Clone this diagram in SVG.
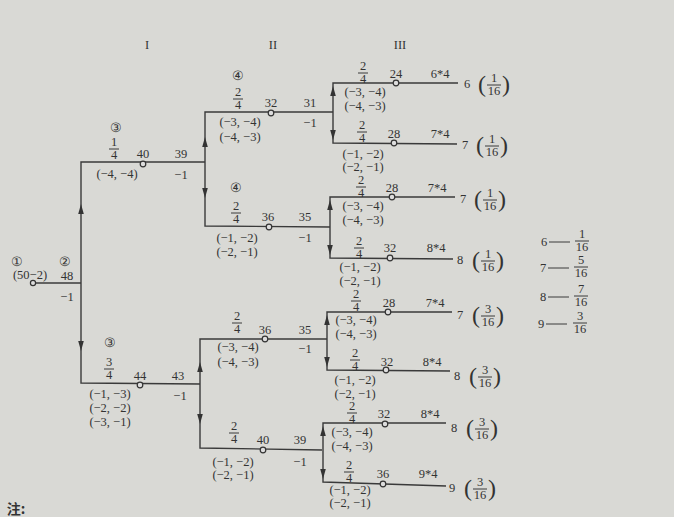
<svg xmlns="http://www.w3.org/2000/svg" width="674" height="517" viewBox="0 0 674 517">
<style>
text{font-family:"Liberation Serif",serif;font-size:12.5px;fill:#333;text-anchor:middle}
.p{font-size:24px}
.c{fill:#ddd;stroke:#333;stroke-width:1.2}
line,polyline{stroke:#3a3a3a;stroke-width:1.4;fill:none}
.fl{stroke-width:1}
.ah{fill:#333}
</style>
<defs>
<path id="up" class="ah" d="M0,-6 L2.8,4 L-2.8,4Z"/>
<path id="dn" class="ah" d="M0,6 L2.8,-4 L-2.8,-4Z"/>
</defs>
<rect width="674" height="517" fill="#d9d9d5"/>
<text x="147" y="49">I</text><text x="273" y="49">II</text><text x="400" y="49">III</text>
<g id="connectors">
<line x1="33" y1="283" x2="81" y2="283"/>
<polyline points="205,162 81,162 81,383 200,384"/>
<use href="#up" x="81" y="210"/><use href="#dn" x="81" y="345"/>
<polyline points="333,112 205,112 205,226 330,227"/>
<use href="#up" x="205" y="143"/><use href="#dn" x="205" y="192"/>
<polyline points="458,83 333,83 333,143 457,144"/>
<use href="#up" x="333" y="92"/><use href="#dn" x="333" y="134"/>
<polyline points="455,197 330,197 330,258 453,259"/>
<use href="#up" x="330" y="206"/><use href="#dn" x="330" y="249"/>
<polyline points="327,339 200,339 200,448 322,450"/>
<use href="#up" x="200" y="368"/><use href="#dn" x="200" y="418"/>
<polyline points="452,312 327,312 327,370 450,371"/>
<use href="#up" x="327" y="321"/><use href="#dn" x="327" y="361"/>
<polyline points="446,423 323,423 323,482 446,486"/>
<use href="#up" x="323" y="432"/><use href="#dn" x="323" y="473"/>
</g>
<g id="root"><circle class="c" cx="33" cy="283" r="2.6"/>
<text x="17" y="266">①</text><text x="65" y="266">②</text>
<text x="30" y="279">(50−2)</text><text x="67" y="280">48</text><text x="67" y="301">−1</text></g>
<g id="n1a"><circle class="c" cx="143" cy="164" r="2.8"/>
<text x="116" y="132">③</text><text x="114" y="146">1</text><line class="fl" x1="109" y1="149" x2="119" y2="149"/><text x="114" y="159">4</text>
<text x="143" y="158">40</text><text x="181" y="158">39</text><text x="117" y="178">(−4, −4)</text><text x="181" y="179">−1</text></g>
<g id="n2a"><circle class="c" cx="271" cy="113" r="2.8"/>
<text x="238" y="80">④</text><text x="238" y="96">2</text><line class="fl" x1="233" y1="99" x2="243" y2="99"/><text x="238" y="109">4</text>
<text x="271" y="107">32</text><text x="310" y="107">31</text><text x="240" y="126">(−3, −4)</text><text x="240" y="141">(−4, −3)</text><text x="310" y="127">−1</text></g>
<g id="n2b"><circle class="c" cx="269" cy="227" r="2.8"/>
<text x="236" y="192">④</text><text x="236" y="210">2</text><line class="fl" x1="231" y1="213" x2="241" y2="213"/><text x="236" y="223">4</text>
<text x="268" y="221">36</text><text x="305" y="221">35</text><text x="237" y="242">(−1, −2)</text><text x="237" y="256">(−2, −1)</text><text x="305" y="242">−1</text></g>
<g id="n1b"><circle class="c" cx="140" cy="385" r="2.8"/>
<text x="110" y="347">③</text><text x="109" y="366">3</text><line class="fl" x1="104" y1="369" x2="114" y2="369"/><text x="109" y="379">4</text>
<text x="140" y="380">44</text><text x="178" y="380">43</text><text x="110" y="398">(−1, −3)</text><text x="110" y="412">(−2, −2)</text><text x="110" y="426">(−3, −1)</text><text x="180" y="400">−1</text></g>
<g id="n2c"><circle class="c" cx="265" cy="339" r="2.8"/>
<text x="237" y="320">2</text><line class="fl" x1="232" y1="323" x2="242" y2="323"/><text x="237" y="333">4</text>
<text x="265" y="334">36</text><text x="305" y="334">35</text><text x="238" y="351">(−3, −4)</text><text x="238" y="366">(−4, −3)</text><text x="305" y="353">−1</text></g>
<g id="n2d"><circle class="c" cx="263" cy="450" r="2.8"/>
<text x="234" y="430">2</text><line class="fl" x1="229" y1="433" x2="239" y2="433"/><text x="234" y="443">4</text>
<text x="263" y="444">40</text><text x="300" y="444">39</text><text x="233" y="466">(−1, −2)</text><text x="233" y="479">(−2, −1)</text><text x="300" y="466">−1</text></g>
<!-- leaves -->
<g id="l1"><circle class="c" cx="396" cy="83" r="2.8"/>
<text x="363" y="70">2</text><line class="fl" x1="358" y1="73" x2="368" y2="73"/><text x="363" y="83">4</text>
<text x="396" y="78">24</text><text x="440" y="78">6*4</text><text x="467" y="88">6</text>
<text class="p" x="482" y="92">(</text><text x="494" y="82">1</text><line class="fl" x1="487" y1="85" x2="501" y2="85"/><text x="494" y="95">16</text><text class="p" x="506" y="92">)</text>
<text x="365" y="96">(−3, −4)</text><text x="365" y="110">(−4, −3)</text></g>
<g id="l2"><circle class="c" cx="394" cy="143" r="2.8"/>
<text x="362" y="129">2</text><line class="fl" x1="357" y1="132" x2="367" y2="132"/><text x="362" y="142">4</text>
<text x="394" y="138">28</text><text x="440" y="138">7*4</text><text x="465" y="149">7</text>
<text class="p" x="480" y="153">(</text><text x="492" y="143">1</text><line class="fl" x1="485" y1="146" x2="499" y2="146"/><text x="492" y="156">16</text><text class="p" x="504" y="153">)</text>
<text x="363" y="158">(−1, −2)</text><text x="363" y="171">(−2, −1)</text></g>
<g id="l3"><circle class="c" cx="392" cy="197" r="2.8"/>
<text x="361" y="184">2</text><line class="fl" x1="356" y1="187" x2="366" y2="187"/><text x="361" y="197">4</text>
<text x="392" y="192">28</text><text x="437" y="192">7*4</text><text x="463" y="203">7</text>
<text class="p" x="478" y="207">(</text><text x="490" y="197">1</text><line class="fl" x1="483" y1="200" x2="497" y2="200"/><text x="490" y="210">16</text><text class="p" x="502" y="207">)</text>
<text x="363" y="210">(−3, −4)</text><text x="363" y="224">(−4, −3)</text></g>
<g id="l4"><circle class="c" cx="390" cy="258" r="2.8"/>
<text x="359" y="245">2</text><line class="fl" x1="354" y1="248" x2="364" y2="248"/><text x="359" y="258">4</text>
<text x="390" y="252">32</text><text x="436" y="252">8*4</text><text x="460" y="264">8</text>
<text class="p" x="476" y="268">(</text><text x="488" y="258">1</text><line class="fl" x1="481" y1="261" x2="495" y2="261"/><text x="488" y="271">16</text><text class="p" x="500" y="268">)</text>
<text x="360" y="271">(−1, −2)</text><text x="360" y="285">(−2, −1)</text></g>
<g id="l5"><circle class="c" cx="388" cy="312" r="2.8"/>
<text x="356" y="298">2</text><line class="fl" x1="351" y1="301" x2="361" y2="301"/><text x="356" y="311">4</text>
<text x="389" y="307">28</text><text x="435" y="307">7*4</text><text x="460" y="319">7</text>
<text class="p" x="476" y="323">(</text><text x="488" y="313">3</text><line class="fl" x1="481" y1="316" x2="495" y2="316"/><text x="488" y="326">16</text><text class="p" x="500" y="323">)</text>
<text x="356" y="324">(−3, −4)</text><text x="356" y="338">(−4, −3)</text></g>
<g id="l6"><circle class="c" cx="386" cy="370" r="2.8"/>
<text x="355" y="357">2</text><line class="fl" x1="350" y1="360" x2="360" y2="360"/><text x="355" y="370">4</text>
<text x="387" y="366">32</text><text x="432" y="366">8*4</text><text x="457" y="380">8</text>
<text class="p" x="473" y="384">(</text><text x="485" y="374">3</text><line class="fl" x1="478" y1="377" x2="492" y2="377"/><text x="485" y="387">16</text><text class="p" x="497" y="384">)</text>
<text x="355" y="384">(−1, −2)</text><text x="355" y="398">(−2, −1)</text></g>
<g id="l7"><circle class="c" cx="385" cy="424" r="2.8"/>
<text x="352" y="410">2</text><line class="fl" x1="347" y1="413" x2="357" y2="413"/><text x="352" y="423">4</text>
<text x="384" y="418">32</text><text x="430" y="418">8*4</text><text x="454" y="432">8</text>
<text class="p" x="470" y="436">(</text><text x="482" y="426">3</text><line class="fl" x1="475" y1="429" x2="489" y2="429"/><text x="482" y="439">16</text><text class="p" x="494" y="436">)</text>
<text x="352" y="436">(−3, −4)</text><text x="352" y="450">(−4, −3)</text></g>
<g id="l8"><circle class="c" cx="383" cy="484" r="2.8"/>
<text x="349" y="469">2</text><line class="fl" x1="344" y1="472" x2="354" y2="472"/><text x="349" y="482">4</text>
<text x="383" y="478">36</text><text x="428" y="478">9*4</text><text x="452" y="492">9</text>
<text class="p" x="468" y="496">(</text><text x="480" y="486">3</text><line class="fl" x1="473" y1="489" x2="487" y2="489"/><text x="480" y="499">16</text><text class="p" x="492" y="496">)</text>
<text x="350" y="494">(−1, −2)</text><text x="350" y="507">(−2, −1)</text></g>
<g id="legend">
<text x="544" y="246">6</text><line class="fl" x1="549" y1="242" x2="570" y2="242"/><text x="582" y="238">1</text><line class="fl" x1="575" y1="241" x2="589" y2="241"/><text x="582" y="251">16</text>
<text x="543" y="272">7</text><line class="fl" x1="548" y1="268" x2="569" y2="268"/><text x="581" y="264">5</text><line class="fl" x1="574" y1="267" x2="588" y2="267"/><text x="581" y="277">16</text>
<text x="543" y="301">8</text><line class="fl" x1="548" y1="297" x2="569" y2="297"/><text x="581" y="293">7</text><line class="fl" x1="574" y1="296" x2="588" y2="296"/><text x="581" y="306">16</text>
<text x="541" y="328">9</text><line class="fl" x1="546" y1="324" x2="567" y2="324"/><text x="580" y="320">3</text><line class="fl" x1="573" y1="323" x2="587" y2="323"/><text x="580" y="333">16</text>
</g>
<text x="16" y="514" style="font-family:'Noto Sans CJK SC',sans-serif;font-size:14px;font-weight:bold">注:</text>
</svg>
